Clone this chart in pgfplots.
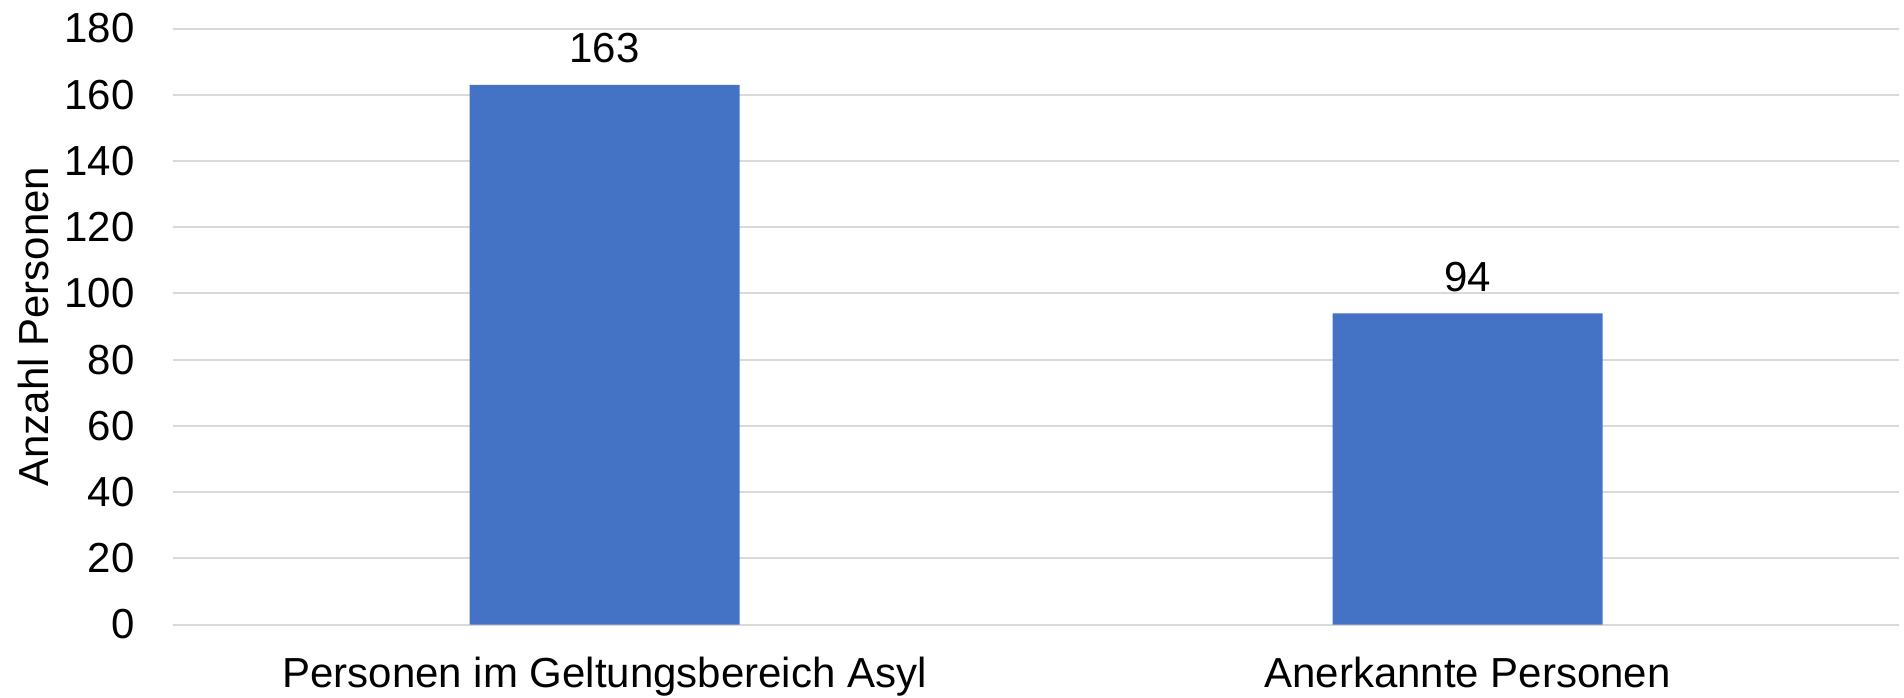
\documentclass[border=0pt]{standalone}
\usepackage{fontspec}
\setmainfont{Liberation Sans}
\usepackage{pgfplots}
\pgfplotsset{compat=1.18}
\definecolor{barblue}{RGB}{68,114,196}
\definecolor{gridgray}{RGB}{217,217,217}
\begin{document}
\begin{tikzpicture}
\begin{axis}[
  width=863pt, height=298pt, scale only axis,
  font=\fontsize{21}{25}\selectfont,
  /pgf/number format/assume math mode=true,
  ybar, bar width=135pt,
  xmin=-0.5, xmax=1.5, ymin=0, ymax=180,
  xtick=data, xticklabels={Personen im Geltungsbereich Asyl, Anerkannte Personen},
  ytick={0,20,...,180},
  axis line style={draw=none}, major tick length=0pt,
  ymajorgrids, major grid style={gridgray, line width=1pt},
  yticklabel style={anchor=east, inner sep=0pt, xshift=-19pt},
  xticklabel style={anchor=north, inner sep=0pt, yshift=-16pt},
  ylabel={Anzahl Personen},
  ylabel style={at={(axis description cs:0,0.5)}, anchor=center, yshift=70pt},
  nodes near coords,
  nodes near coords style={anchor=south, inner sep=0pt, yshift=10.5pt, black},
]
\addplot[fill=barblue, draw=none] coordinates {(0,163) (1,94)};
\end{axis}
\pgfresetboundingbox
\path (current axis.south west) ++(-86.5pt,-36.5pt) rectangle ([xshift=2.5pt,yshift=14.25pt]current axis.north east);
\end{tikzpicture}
\end{document}
